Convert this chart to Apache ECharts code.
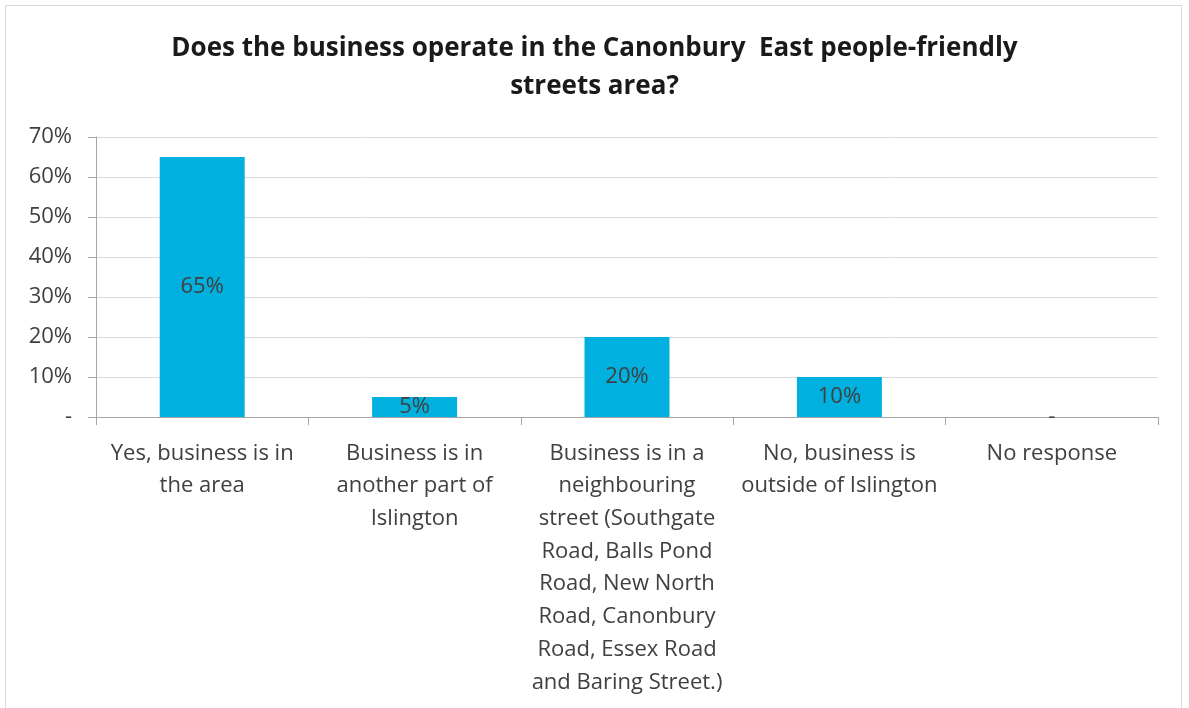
<!DOCTYPE html>
<html>
<head>
<meta charset="utf-8">
<script src="https://cdn.jsdelivr.net/npm/echarts@6/dist/echarts.min.js"></script>
<style>
  html, body { margin: 0; padding: 0; background: #fff; }
  #frame { position: absolute; left: 5px; top: 5px; width: 1177px; height: 720px; border: 1px solid #d9d9d9; box-sizing: border-box; }
  #chart { position: absolute; left: 0; top: 0; width: 1189px; height: 708px; }
</style>
</head>
<body>
<div id="frame"></div>
<div id="chart"></div>
<script>
const titleText = 'Does the business operate in the Canonbury  East people-friendly\nstreets area?';
const categories = [
  'Yes, business is in\nthe area',
  'Business is in\nanother part of\nIslington',
  'Business is in a\nneighbouring\nstreet (Southgate\nRoad, Balls Pond\nRoad, New North\nRoad, Canonbury\nRoad, Essex Road\nand Baring Street.)',
  'No, business is\noutside of Islington',
  'No response'
];
const shares = [65, 5, 20, 10, 0];
const yTicks = [0, 10, 20, 30, 40, 50, 60, 70];

const font = '"Open Sans", "Liberation Sans", sans-serif';
const textColor = '#404040';

const chart = echarts.init(document.getElementById('chart'));
chart.setOption({
  animation: false,
  title: {
    text: titleText,
    left: 'center',
    top: 25,
    textStyle: { fontFamily: font, fontWeight: 'bold', fontSize: 26, color: '#1a1a1a', lineHeight: 38 }
  },
  grid: { left: 96, right: 31, top: 137, bottom: 291 },
  xAxis: {
    type: 'category',
    data: categories,
    axisLine: { lineStyle: { color: '#a6a6a6', width: 1 } },
    axisTick: { show: true, length: 8, lineStyle: { color: '#a6a6a6' } },
    axisLabel: { interval: 0, margin: 20, fontFamily: font, fontSize: 22, color: textColor, lineHeight: 32.7 }
  },
  yAxis: {
    type: 'value',
    min: yTicks[0],
    max: yTicks[yTicks.length - 1],
    interval: 10,
    axisLine: { show: true, lineStyle: { color: '#a6a6a6' } },
    axisTick: { show: true, length: 8, lineStyle: { color: '#a6a6a6' } },
    splitLine: { lineStyle: { color: '#d9d9d9' } },
    axisLabel: {
      margin: 24,
      fontFamily: font, fontSize: 22, color: textColor,
      formatter: v => v === 0 ? '-' : v + '%'
    }
  },
  series: [{
    type: 'bar',
    data: shares,
    barWidth: '40%',
    itemStyle: { color: '#00b0df' },
    label: {
      show: true,
      position: 'inside',
      fontFamily: font, fontSize: 22, color: textColor,
      formatter: p => p.value === 0 ? '-' : p.value + '%'
    }
  }]
});
</script>
</body>
</html>
